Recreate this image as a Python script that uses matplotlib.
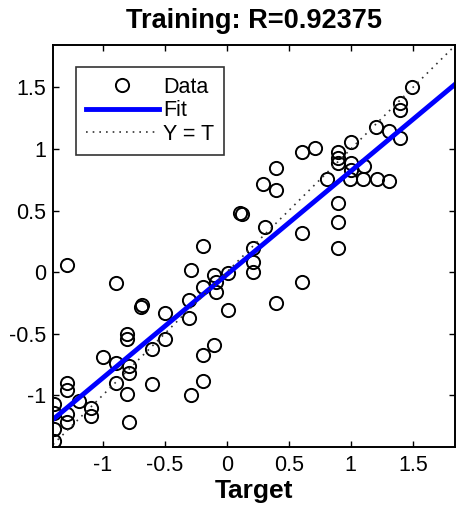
import numpy as np
import matplotlib
matplotlib.use('Agg')
from matplotlib import pyplot as plt

plt.rcParams['font.family'] = ['Liberation Sans', 'DejaVu Sans']

# targets / network outputs
target = [1.49, 1.40, 1.40, 1.20, 1.31, 1.40, 0.71, 0.61, 1.00, 0.90,
          0.90, 0.90, 1.00, 1.11, 1.00, 0.81, 0.99, 1.10, 1.21, 1.31,
          0.90, 0.90, 0.90, 0.40, 0.29, 0.40, 0.11, 0.12, 0.31, 0.61,
          -0.19, 0.21, 0.21, 0.21, -0.29, -0.10, 0.01, -0.19, -0.09, -0.09,
          0.61, -0.30, 0.40, 0.01, -0.30, -0.10, -0.19, -0.19, -0.29, -1.29,
          -0.89, -0.69, -0.68, -0.50, -0.80, -0.80, -0.50, -0.60, -1.00, -0.89,
          -0.79, -0.79, -0.89, -0.80, -0.60, -1.29, -1.29, -1.19, -1.09, -1.09,
          -1.29, -1.29, -0.79, -1.39, -1.39, -1.39, -1.39]
output = [1.50, 1.37, 1.32, 1.18, 1.15, 1.09, 1.01, 0.98, 1.06, 0.98,
          0.93, 0.89, 0.89, 0.86, 0.83, 0.76, 0.76, 0.76, 0.76, 0.74,
          0.56, 0.41, 0.20, 0.85, 0.72, 0.67, 0.48, 0.47, 0.37, 0.32,
          0.21, 0.20, 0.08, 0.00, 0.02, -0.02, -0.01, -0.12, -0.08, -0.16,
          -0.08, -0.23, -0.25, -0.31, -0.37, -0.59, -0.67, -0.88, -1.00, 0.06,
          -0.09, -0.28, -0.27, -0.33, -0.50, -0.54, -0.54, -0.62, -0.69, -0.74,
          -0.76, -0.82, -0.90, -0.99, -0.91, -0.90, -0.96, -1.05, -1.10, -1.17,
          -1.15, -1.22, -1.22, -1.07, -1.14, -1.27, -1.37]

fit_slope = 0.84
fit_offset = -0.02
r_value = 0.92375

x_lim = (-1.40, 1.84)
y_lim = (-1.42, 1.845)
ticks = [-1, -0.5, 0, 0.5, 1, 1.5]
tick_labels = ['-1', '-0.5', '0', '0.5', '1', '1.5']

fig = plt.figure(figsize=(4.57, 5.13), dpi=100)
ax = fig.add_axes([53 / 457, 1 - 447 / 513, 402 / 457, 402 / 513])

ax.plot(target, output, 'o', mfc='none', mec='black', ms=9.5, mew=1.4,
        label='Data')
xx = np.array(x_lim)
ax.plot(xx, fit_slope * xx + fit_offset, color='#0000ff', lw=3.5, label='Fit')
ax.plot(xx, xx, color='#333333', lw=1.2, dashes=(1, 3), label='Y = T')

ax.set_xlim(x_lim)
ax.set_ylim(y_lim)
ax.set_xticks(ticks)
ax.set_xticklabels(tick_labels)
ax.set_yticks(ticks)
ax.set_yticklabels(tick_labels)
ax.tick_params(direction='in', length=4, width=1, top=True, right=True,
               labelsize=15.5, pad=6)
ax.tick_params(axis='y', pad=5)
for s in ax.spines.values():
    s.set_linewidth(1.4)

ax.set_title('Training: R={:.5f}'.format(r_value), fontsize=19.5,
             fontweight='bold', pad=12)
ax.set_xlabel('Target', fontsize=19, fontweight='bold', labelpad=2)

leg = ax.legend(loc='upper left', bbox_to_anchor=(0.057, 0.945),
                fontsize=15.5, frameon=True, fancybox=False, edgecolor='black',
                handlelength=3.4, handletextpad=0.2, labelspacing=0.12,
                borderpad=0.45, borderaxespad=0)
leg.get_frame().set_linewidth(1.2)

fig.savefig('out.png', dpi=100)
